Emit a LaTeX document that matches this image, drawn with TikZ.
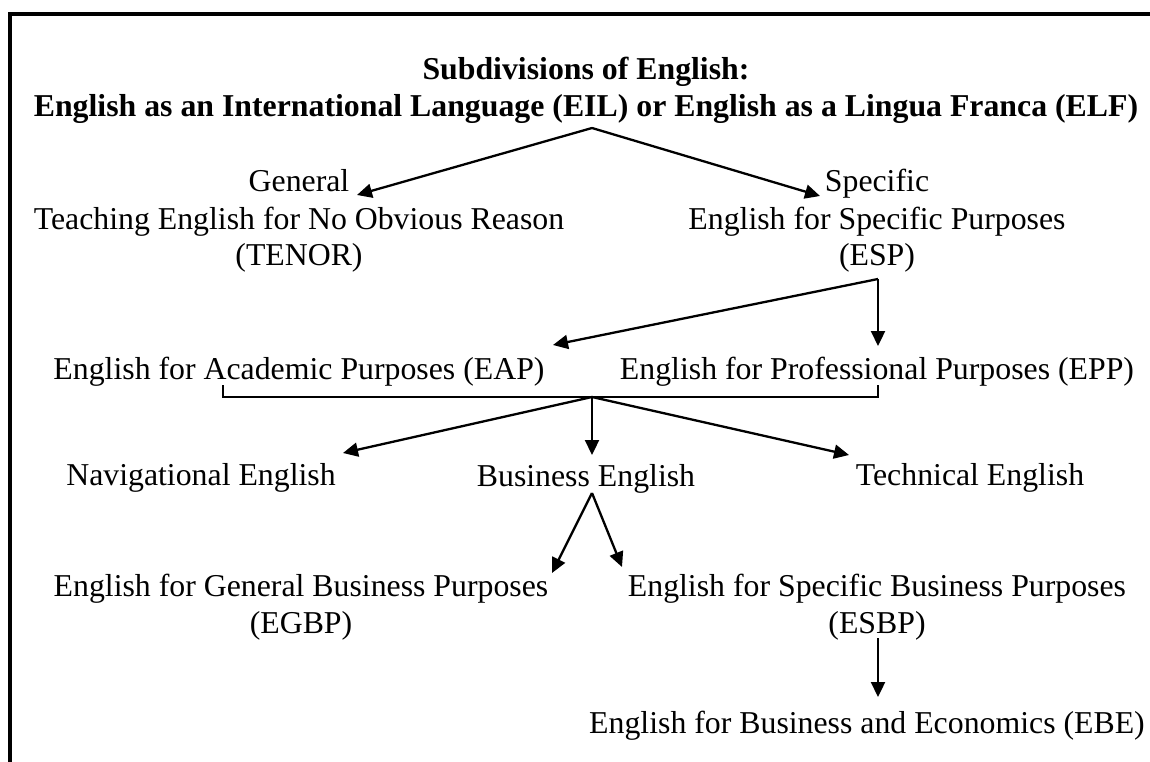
\documentclass[tikz,border=0pt]{standalone}
\usepackage{fontspec}
\setmainfont{Liberation Serif}
\usetikzlibrary{arrows.meta}
\tikzset{
  lbl/.style={font=\fontsize{31.8}{36.6}\selectfont, inner sep=0pt, anchor=base},
  ttl/.style={lbl, font=\fontsize{31.8}{36.6}\selectfont\bfseries},
  arr/.style={line width=2.3pt, -{Triangle[length=15pt,width=14pt]}},
  brk/.style={line width=1.8pt},
  frame/.style={line width=3.6pt}
}
\begin{document}
\begin{tikzpicture}[x=1pt,y=-1pt]
\useasboundingbox (0,0) rectangle (1150,762);
% frame: top and left rules
\draw[frame] (10,762) -- (10,14) -- (1150,14);

% heading
\node[ttl] (title1) at (586,80) {Subdivisions of English:};
\node[ttl] (title2) at (586,117) {English as an International Language (EIL) or English as a Lingua Franca (ELF)};

% general / specific
\node[lbl] (gen1) at (299,192) {General};
\node[lbl] (gen2) at (299,229) {Teaching English for No Obvious Reason};
\node[lbl] (gen3) at (299,265) {(TENOR)};
\node[lbl] (spec1) at (877,192) {Specific};
\node[lbl] (spec2) at (877,229) {English for Specific Purposes};
\node[lbl] (spec3) at (877,265) {(ESP)};

% EAP / EPP
\node[lbl] (eap) at (299,379) {English for Academic Purposes (EAP)};
\node[lbl] (epp) at (877,379) {English for Professional Purposes (EPP)};

% three kinds
\node[lbl] (nav) at (201,485) {Navigational English};
\node[lbl] (bus) at (586,486) {Business English};
\node[lbl] (tech) at (970,485) {Technical English};

% business subdivisions
\node[lbl] (egbp1) at (301,596) {English for General Business Purposes};
\node[lbl] (egbp2) at (301,633) {(EGBP)};
\node[lbl] (esbp1) at (877,596) {English for Specific Business Purposes};
\node[lbl] (esbp2) at (877,633) {(ESBP)};
\node[lbl] (ebe) at (867,733) {English for Business and Economics (EBE)};

% branch points and arrow ends
\coordinate (a1) at (592,128);
\coordinate (tGen) at (357,195);
\coordinate (tSpec) at (820,196);
\coordinate (a2) at (878,279);
\coordinate (tEap) at (553,345);
\coordinate (tEpp) at (878,346);
\coordinate (bl) at (223,385);
\coordinate (br) at (878,385);
\coordinate (a3) at (592,397);
\coordinate (tNav) at (343,453);
\coordinate (tBus) at (592,455);
\coordinate (tTech) at (849,455);
\coordinate (a4) at (592,493);
\coordinate (tEgbp) at (552,573);
\coordinate (tEsbp) at (622,567);
\coordinate (a5) at (878,638);
\coordinate (tEbe) at (878,697);

% connectors
\draw[arr] (a1) -- (tGen);
\draw[arr] (a1) -- (tSpec);
\draw[arr] (a2) -- (tEap);
\draw[arr] (a2) -- (tEpp);
\draw[brk] (bl) -- (bl |- a3) -- (br |- a3) -- (br);
\draw[arr] (a3) -- (tNav);
\draw[arr] (a3) -- (tBus);
\draw[arr] (a3) -- (tTech);
\draw[arr] (a4) -- (tEgbp);
\draw[arr] (a4) -- (tEsbp);
\draw[arr] (a5) -- (tEbe);
\end{tikzpicture}
\end{document}
